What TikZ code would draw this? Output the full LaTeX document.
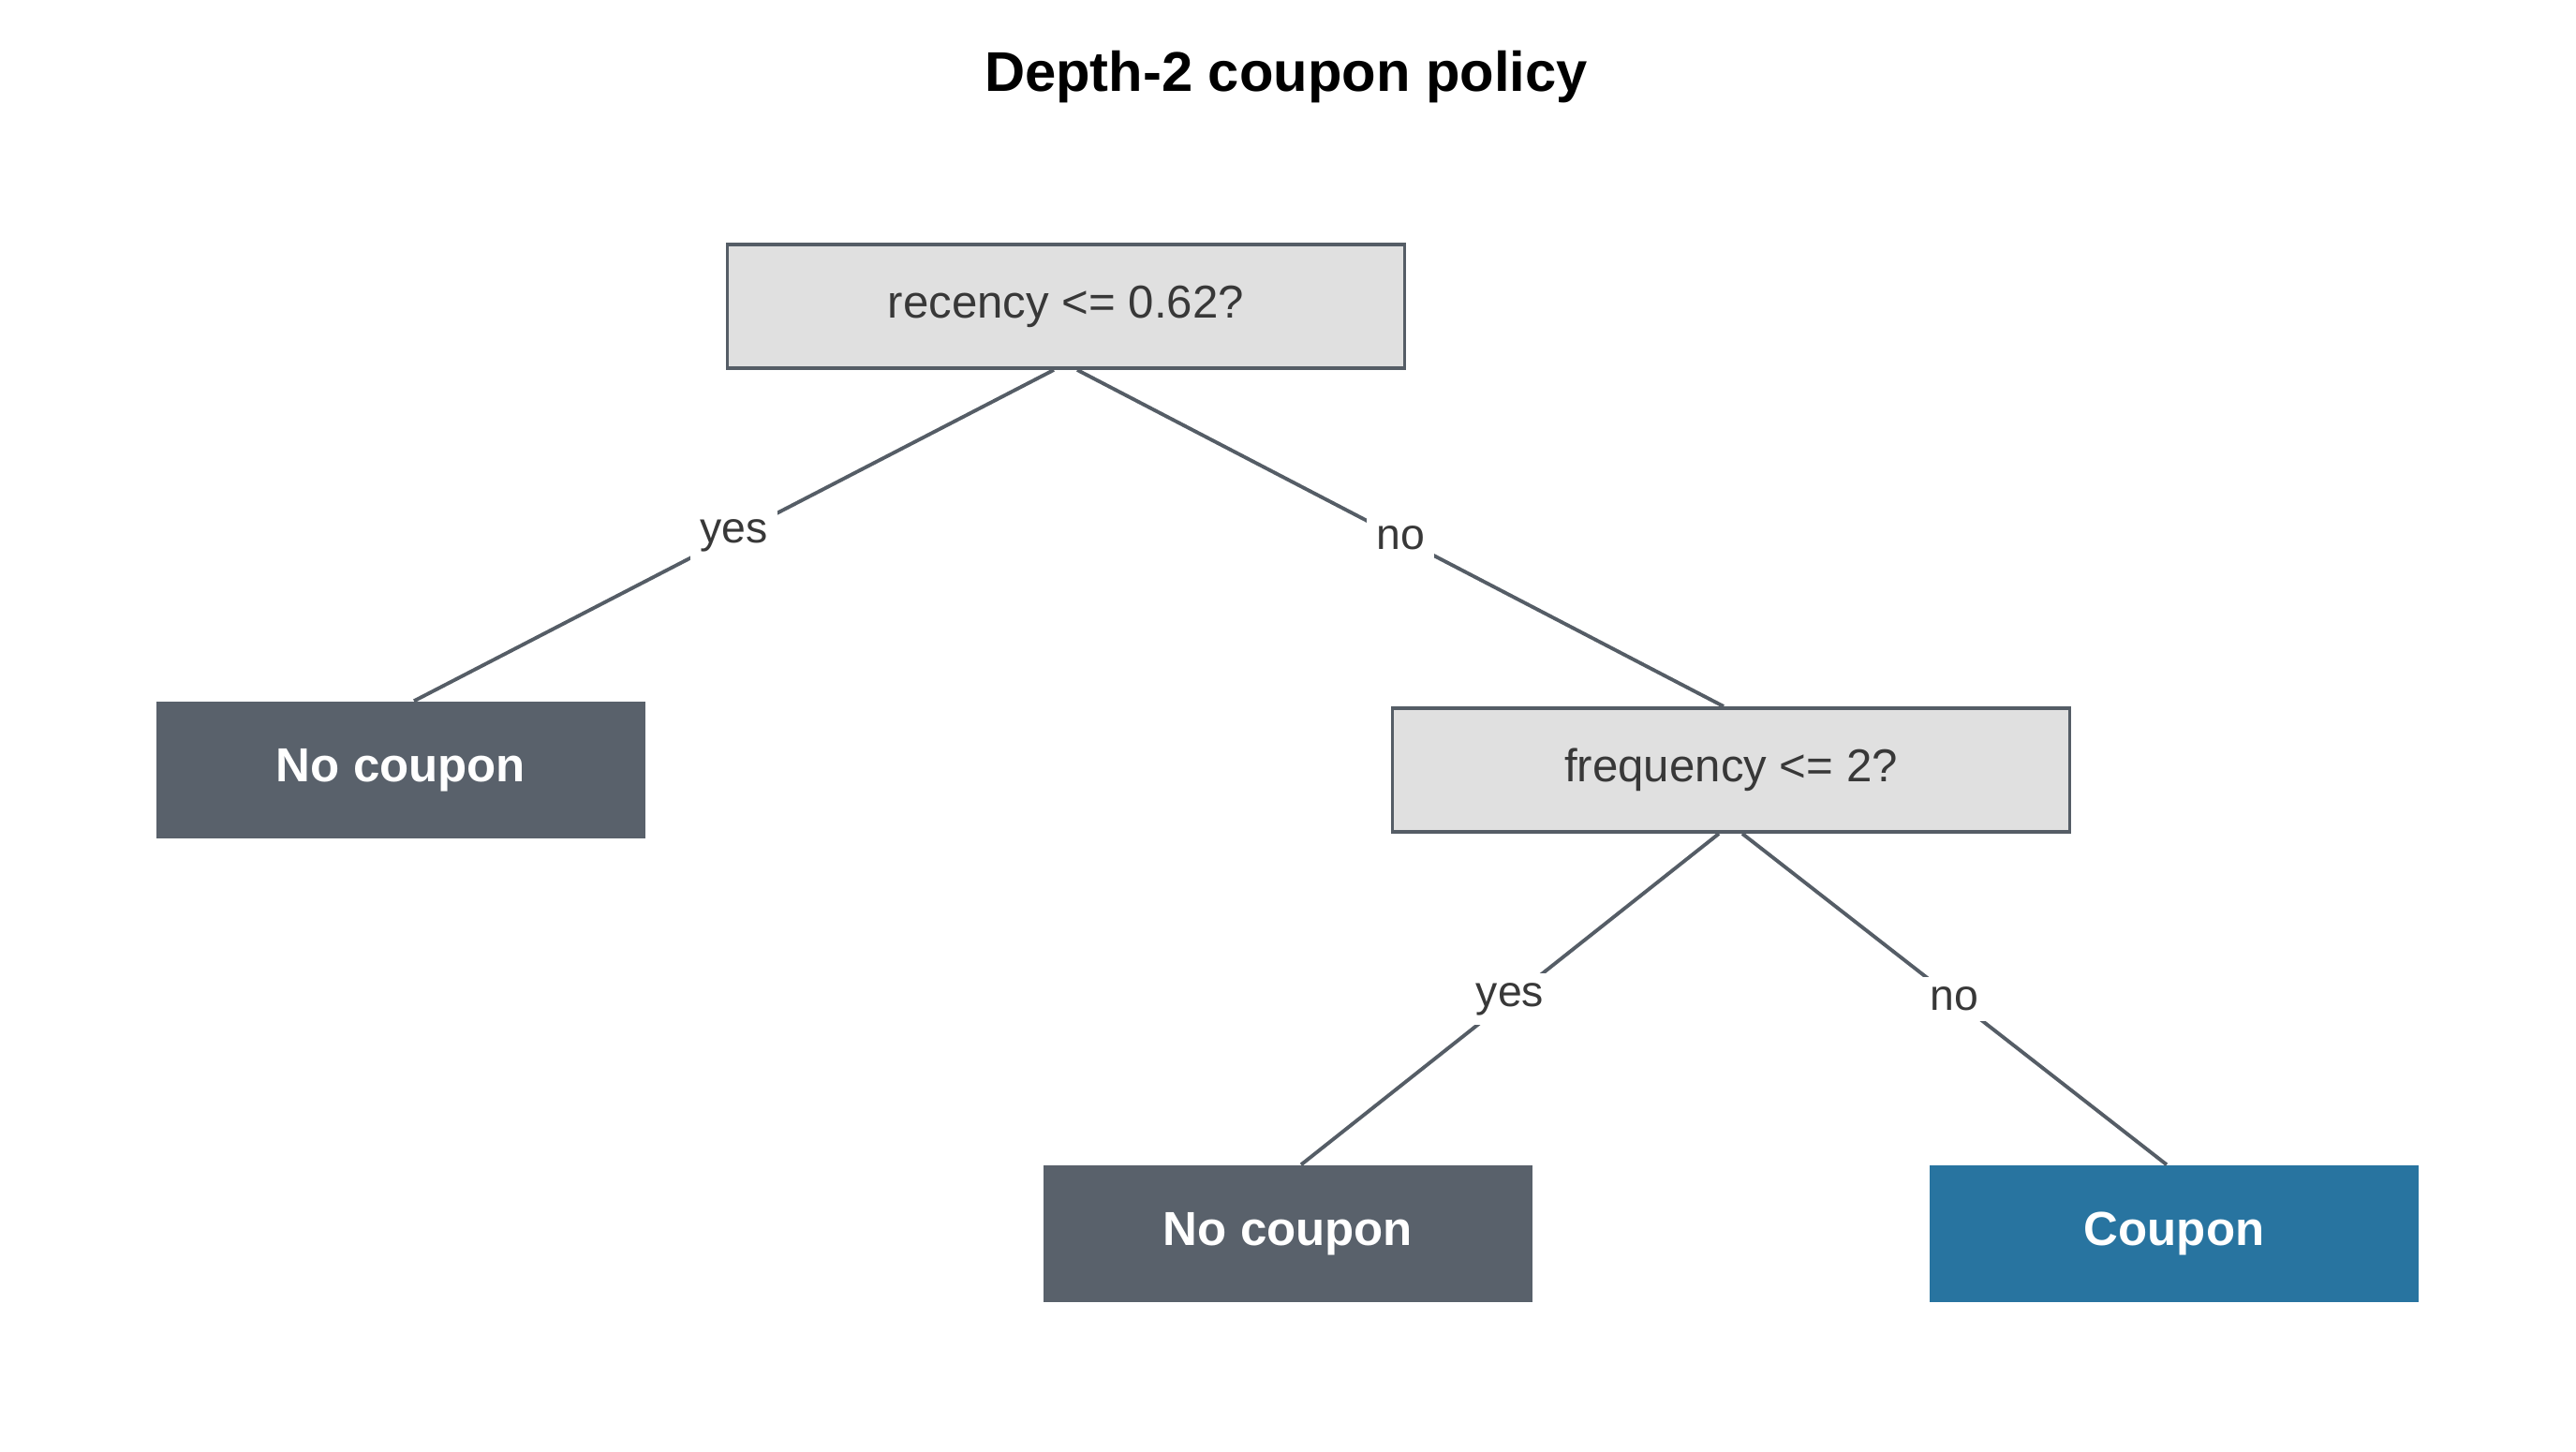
\documentclass[tikz,border=0pt]{standalone}
\usepackage{fontspec}
\setmainfont{Liberation Sans}
\usepackage{tikz}

\definecolor{edgegray}{HTML}{555D66}
\definecolor{leafgray}{HTML}{59616B}
\definecolor{splitfill}{HTML}{E0E0E0}
\definecolor{coupblue}{HTML}{2874A0}
\definecolor{txtgray}{HTML}{383838}

\begin{document}
\begin{tikzpicture}[
		level distance=4.95cm,
		level 1/.style={sibling distance=14.2cm},
		level 2/.style={sibling distance=9.46cm},
		edge from parent/.style={draw=edgegray,line width=1.1pt},
		yesedge/.style={edge from parent path={([xshift=-0.13cm]\tikzparentnode.south) -- ([xshift=0.14cm]\tikzchildnode.north)}},
		noedge/.style={edge from parent path={([xshift=0.12cm]\tikzparentnode.south) -- ([xshift=-0.08cm]\tikzchildnode.north)}},
		split/.style={rectangle,draw=edgegray,line width=1.1pt,fill=splitfill,text=txtgray,
			minimum width=7.23cm,minimum height=1.32cm,inner sep=0pt,
			font=\fontsize{14}{16}\selectfont},
		leaf/.style={rectangle,fill=leafgray,text=white,
			minimum width=5.22cm,minimum height=1.46cm,inner sep=0pt,
			font=\bfseries\fontsize{14.5}{17}\selectfont},
		coupon/.style={leaf,fill=coupblue},
		lbl/.style={midway,fill=white,text=txtgray,inner sep=3pt,
			font=\fontsize{13.2}{15}\selectfont}
		]
		\useasboundingbox (0,0) rectangle (27.5,15.5);
		\node (title) at (13.73,14.68) {\bfseries\fontsize{17}{20}\selectfont Depth-2 coupon policy};
		\node[split] (recency) at (11.38,12.23) {recency <= 0.62?}
		child[yesedge] {node[leaf] (leftleaf) {No coupon}
			edge from parent node[lbl] {yes}
		}
		child[noedge] {node[split] (frequency) {frequency <= 2?}
			child[yesedge] {node[leaf] (midleaf) {No coupon}
				edge from parent node[lbl] {yes}
			}
			child[noedge] {node[coupon] (rightleaf) {Coupon}
				edge from parent node[lbl] {no}
			}
			edge from parent node[lbl] {no}
		}
		;
	\end{tikzpicture}
\end{document}
